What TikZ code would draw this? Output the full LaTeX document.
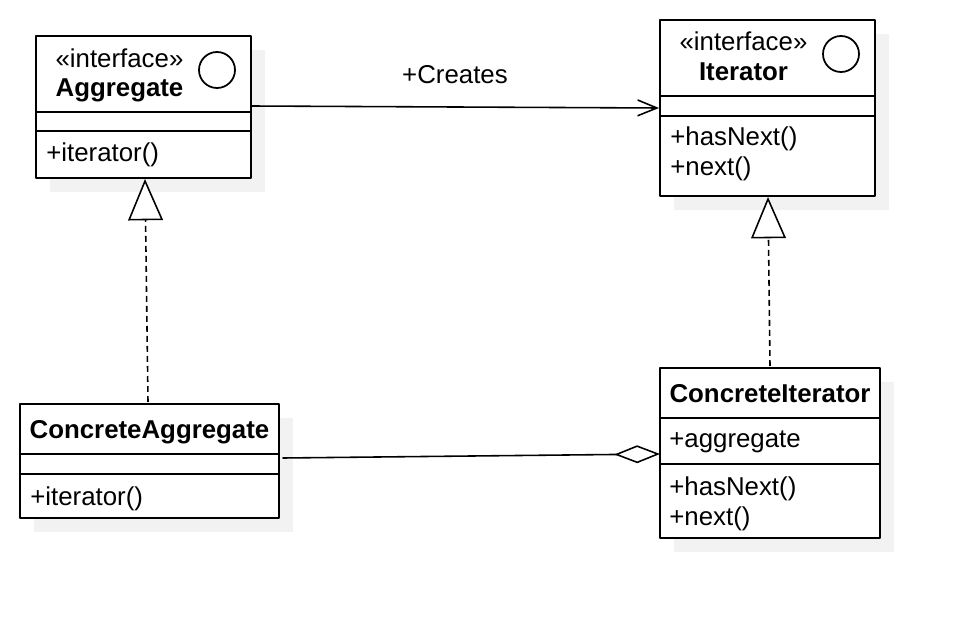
\documentclass[tikz,border=0pt]{standalone}
\usepackage{fontspec}
\setmainfont{Liberation Sans}
\usetikzlibrary{arrows.meta}
\begin{document}
\begin{tikzpicture}[x=0.02cm,y=-0.02cm,line join=round,line cap=round,font=\fontsize{14.7}{17}\selectfont,
	box/.style={draw,line width=1.1pt,fill=white},
	bar/.style={line width=1.1pt},
	shade/.style={fill=black!5},
	txt/.style={anchor=base west,inner sep=0pt},
	ctr/.style={anchor=base,inner sep=0pt},
	ttl/.style={anchor=base,inner sep=0pt,font=\fontsize{14.7}{17}\selectfont\bfseries},
	real/.style={line width=0.9pt,line cap=butt,dash pattern=on 3.4pt off 2.3pt,-{Triangle[open,length=23.5pt,width=19.8pt,fill=white]}}]
	\useasboundingbox (0,0) rectangle (960,618);
	% Aggregate
	\coordinate (A1) at (36,36);
	\coordinate (A2) at (251,178);
	\fill[shade] ([shift={(14,14)}]A1) rectangle ([shift={(14,14)}]A2);
	\draw[box] (A1) rectangle (A2);
	\draw[bar] (36,112) -- (251,112) (36,131) -- (251,131);
	\draw[line width=1pt] (217,70) circle [radius=18];
	\node[ctr] (As) at (119.5,68) {«interface»};
	\node[ttl] (An) at (119.5,97) {Aggregate};
	\node[txt] (Am) at (46,162) {+iterator()};
	% Iterator
	\coordinate (B1) at (660,20);
	\coordinate (B2) at (875,196);
	\fill[shade] ([shift={(14,14)}]B1) rectangle ([shift={(14,14)}]B2);
	\draw[box] (B1) rectangle (B2);
	\draw[bar] (660,96) -- (875,96) (660,116) -- (875,116);
	\draw[line width=1pt] (841,54) circle [radius=18];
	\node[ctr] (Bs) at (743.5,51) {«interface»};
	\node[ttl] (Bn) at (743.5,81) {Iterator};
	\node[txt] (Bm) at (670,146) {+hasNext()};
	\node[txt] (Bk) at (670,176) {+next()};
	% ConcreteAggregate
	\coordinate (C1) at (20,404);
	\coordinate (C2) at (279,518);
	\fill[shade] ([shift={(14,14)}]C1) rectangle ([shift={(14,14)}]C2);
	\draw[box] (C1) rectangle (C2);
	\draw[bar] (20,454) -- (279,454) (20,474) -- (279,474);
	\node[ttl] (Cn) at (149.5,438) {ConcreteAggregate};
	\node[txt] (Cm) at (30,505) {+iterator()};
	% ConcreteIterator
	\coordinate (D1) at (660,368);
	\coordinate (D2) at (880,538);
	\fill[shade] ([shift={(14,14)}]D1) rectangle ([shift={(14,14)}]D2);
	\draw[box] (D1) rectangle (D2);
	\draw[bar] (660,418) -- (880,418) (660,464) -- (880,464);
	\node[ttl] (Dn) at (770,402) {ConcreteIterator};
	\node[txt] (Da) at (669,447) {+aggregate};
	\node[txt] (Dm) at (669,495) {+hasNext()};
	\node[txt] (Dk) at (669,525) {+next()};
	% connectors
	\coordinate (P) at (251,106);
	\coordinate (Q) at (659,108);
	\draw[line width=0.9pt,-{Straight Barb[length=11pt,width=9pt]}] (P) -- (Q)
		node[pos=0.5,above=13pt,inner sep=0pt] (cr) {+Creates};
	\coordinate (R) at (283,458);
	\coordinate (S) at (660,454);
	\draw[line width=0.9pt,-{Diamond[open,length=26pt,width=10.2pt,fill=white]}] (R) -- (S);
	\coordinate (K) at (148,402);
	\coordinate (L) at (145,179);
	\draw[real] (K) -- (L);
	\coordinate (M) at (770,366);
	\coordinate (N) at (768,197);
	\draw[real] (M) -- (N);
\end{tikzpicture}
\end{document}
